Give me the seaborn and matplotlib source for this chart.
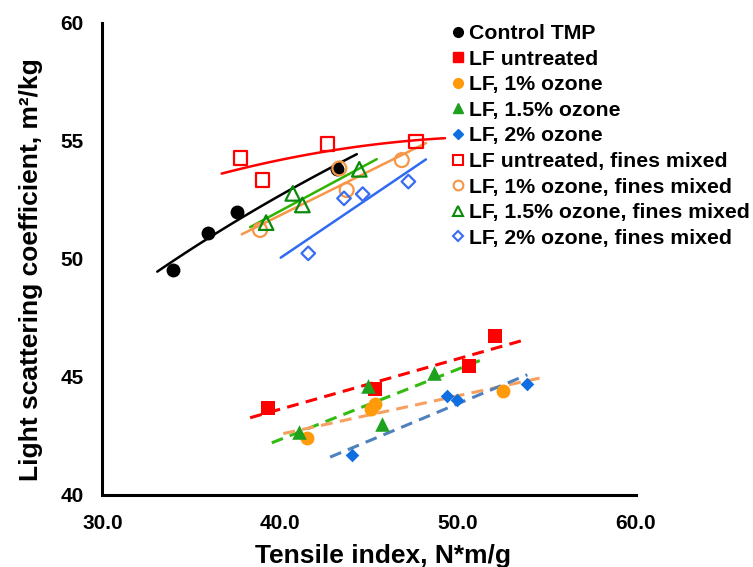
import numpy as np
import matplotlib
matplotlib.use("Agg")
import matplotlib.pyplot as plt
from matplotlib.lines import Line2D
import seaborn as sns

# ---------------- data ----------------
ctrl_x = [33.95, 35.92, 37.55, 43.17]
ctrl_y = [49.53, 51.09, 51.98, 53.80]

lfu_x = [39.31, 45.33, 50.62, 52.07]
lfu_y = [43.69, 44.49, 45.47, 46.74]

lf1_x = [41.48, 45.10, 45.33, 52.54]
lf1_y = [42.41, 43.63, 43.84, 44.41]

lf15_x = [41.07, 44.92, 45.70, 48.66]
lf15_y = [42.68, 44.63, 43.01, 45.16]

lf2_x = [44.05, 49.36, 49.94, 53.86]
lf2_y = [41.69, 44.19, 44.03, 44.70]

fu_x = [37.77, 39.01, 42.64, 47.63]
fu_y = [54.27, 53.35, 54.87, 54.97]

f1_x = [38.86, 43.32, 43.73, 46.83]
f1_y = [51.23, 53.84, 52.92, 54.19]

f15_x = [39.20, 40.70, 41.24, 44.44]
f15_y = [51.54, 52.78, 52.29, 53.80]

f2_x = [41.57, 43.58, 44.63, 47.20]
f2_y = [50.24, 52.57, 52.75, 53.28]

# trend line x-extents
ctrl_rng = [33.08, 44.30]
fu_rng = [36.70, 49.26]
f1_rng = [37.83, 48.19]
f15_rng = [38.30, 45.42]
f2_rng = [40.02, 48.19]
lfu_rng = [38.30, 53.89]
lf15_rng = [39.52, 51.23]
lf1_rng = [40.17, 54.70]
lf2_rng = [42.80, 53.89]

labels = ["Control TMP", "LF untreated", "LF, 1% ozone", "LF, 1.5% ozone",
          "LF, 2% ozone", "LF untreated, fines mixed", "LF, 1% ozone, fines mixed",
          "LF, 1.5% ozone, fines mixed", "LF, 2% ozone, fines mixed"]

xticks = [30.0, 40.0, 50.0, 60.0]
yticks = [40, 45, 50, 55, 60]

# ---------------- style ----------------
sns.set_theme(style="white")
plt.rcParams["font.family"] = ["Liberation Sans", "DejaVu Sans"]
plt.rcParams["font.weight"] = "bold"

fig = plt.figure(figsize=(7.53, 5.67), dpi=100)
W, H = 753, 567
L, R, T, B = 102.5, 636, 23, 495
ax = fig.add_axes([L / W, 1 - B / H, (R - L) / W, (B - T) / H])

C_RED = "#FF0000"
C_ORG = "#FF9A0A"
C_GRN = "#1FA01F"
C_BLU = "#0F6FE0"
C_ORG_O = "#F79646"
C_GRN_O = "#0A8A0A"
C_BLU_O = "#3A6CF2"


def trend(xs, ys, rng, deg, color, ls, lw, logx=False):
    fx = np.log(xs) if logx else np.asarray(xs)
    coef = np.polyfit(fx, ys, deg)
    gx = np.linspace(rng[0], rng[1], 60)
    gy = np.polyval(coef, np.log(gx) if logx else gx)
    sns.lineplot(x=gx, y=gy, color=color, linewidth=lw, linestyle=ls,
                 sort=False, errorbar=None, ax=ax, zorder=2)


dash = (0, (3.9, 2.4))
# solid trend lines
trend(ctrl_x, ctrl_y, ctrl_rng, 1, "black", "-", 1.8, logx=True)
trend(fu_x, fu_y, fu_rng, 2, C_RED, "-", 1.8)
trend(f1_x, f1_y, f1_rng, 1, C_ORG_O, "-", 1.8)
trend(f15_x, f15_y, f15_rng, 1, "#2DB400", "-", 1.8)
trend(f2_x, f2_y, f2_rng, 1, "#2F6BF0", "-", 1.8)
# dashed trend lines
trend(lfu_x, lfu_y, lfu_rng, 1, C_RED, dash, 2.2)
trend(lf15_x, lf15_y, lf15_rng, 1, "#33BB11", dash, 2.2)
trend(lf1_x, lf1_y, lf1_rng, 1, "#F7A060", dash, 2.2)
trend(lf2_x, lf2_y, lf2_rng, 1, "#4F81BD", dash, 2.2)

# markers
def pts(xs, ys, marker, s, fc, ec, lw=0.0):
    sns.scatterplot(x=xs, y=ys, marker=marker, s=s, color=ec, facecolor=fc,
                    edgecolor=ec, linewidth=lw, ax=ax, zorder=3, clip_on=False)

pts(ctrl_x, ctrl_y, "o", 100, "black", "black")
pts(lfu_x, lfu_y, "s", 100, C_RED, C_RED)
pts(lf1_x, lf1_y, "o", 100, C_ORG, C_ORG)
pts(lf15_x, lf15_y, "^", 110, C_GRN, C_GRN)
pts(lf2_x, lf2_y, "D", 48, C_BLU, C_BLU)
pts(fu_x, fu_y, "s", 95, "none", C_RED, 1.6)
pts(f1_x, f1_y, "o", 100, "none", C_ORG_O, 1.6)
pts(f15_x, f15_y, "^", 110, "none", C_GRN_O, 1.6)
pts(f2_x, f2_y, "D", 48, "none", C_BLU_O, 1.6)

# axes
ax.set_xlim(30, 60)
ax.set_ylim(40, 60)
ax.set_xticks(xticks)
ax.set_xticklabels([f"{v:.1f}" for v in xticks])
ax.set_yticks(yticks)
ax.set_yticklabels([f"{v:d}" for v in yticks])
for s in ["top", "right"]:
    ax.spines[s].set_visible(False)
for s in ["left", "bottom"]:
    ax.spines[s].set_color("black")
    ax.spines[s].set_linewidth(2.2)
ax.tick_params(axis="both", direction="in", length=6, width=2, color="black",
               labelsize=15, labelcolor="black", pad=13.5)
for lab in ax.get_xticklabels() + ax.get_yticklabels():
    lab.set_fontweight("bold")
ax.grid(False)

ax.set_xlabel("Tensile index, N*m/g", fontsize=19, fontweight="bold", color="black")
ax.set_ylabel("Light scattering coefficient, m²/kg", fontsize=19, fontweight="bold",
              color="black")
ax.xaxis.label.set_va("center")
ax.yaxis.label.set_va("center")
ax.xaxis.set_label_coords((383 - L) / (R - L), (B - 556) / (B - T))
ax.yaxis.set_label_coords((31 - L) / (R - L), (B - 270) / (B - T))

# legend
handles = [
    Line2D([], [], ls="", marker="o", ms=7, mfc="black", mec="black"),
    Line2D([], [], ls="", marker="s", ms=7, mfc=C_RED, mec=C_RED),
    Line2D([], [], ls="", marker="o", ms=7, mfc=C_ORG, mec=C_ORG),
    Line2D([], [], ls="", marker="^", ms=7, mfc=C_GRN, mec=C_GRN),
    Line2D([], [], ls="", marker="D", ms=5.5, mfc=C_BLU, mec=C_BLU),
    Line2D([], [], ls="", marker="s", ms=7, mfc="none", mec=C_RED, mew=1.5),
    Line2D([], [], ls="", marker="o", ms=7, mfc="none", mec=C_ORG_O, mew=1.5),
    Line2D([], [], ls="", marker="^", ms=7, mfc="none", mec=C_GRN_O, mew=1.5),
    Line2D([], [], ls="", marker="D", ms=5.5, mfc="none", mec=C_BLU_O, mew=1.5),
]
leg = fig.legend(handles, labels, loc="upper left", bbox_to_anchor=(452.8 / W, 1 - 24 / H),
                 frameon=False, borderpad=0, borderaxespad=0, handlelength=0.5,
                 handletextpad=0.25, labelspacing=0.31,
                 prop={"family": ["Liberation Sans", "DejaVu Sans"], "weight": "bold", "size": 15.3})
for t in leg.get_texts():
    t.set_color("black")

fig.savefig("out.png", dpi=100)
